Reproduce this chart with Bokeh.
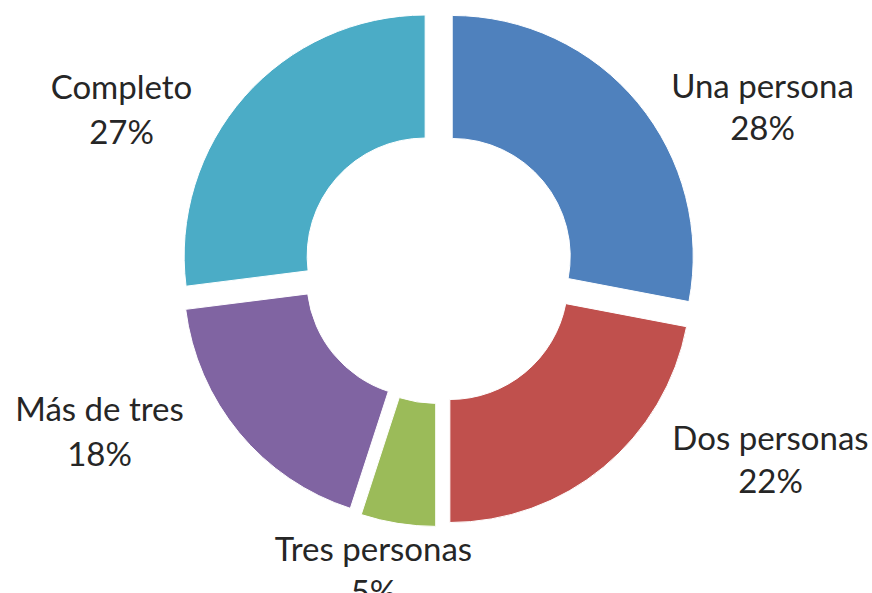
import numpy as np
from bokeh.plotting import figure
from bokeh.models import Range1d, ColumnDataSource
from bokeh.core.properties import value
from bokeh.embed import file_html
from bokeh.resources import INLINE

# ---- data ----
categories = ["Una persona", "Dos personas", "Tres personas", "Más de tres", "Completo"]
shares = [28, 22, 5, 18, 27]
colors = ["#4F81BD", "#C0504D", "#9BBB59", "#8064A2", "#4BACC6"]

# ---- layout (screen pixels of the picture) ----
W, H = 872, 593
CX, CY_SCREEN = 438.0, 267.3
R_OUT, R_IN, EXPLODE = 241.0, 118.0, 17.8
label_x = [762, 770, 373, 99, 121]
label_y1 = [84, 436, 547, 407, 85]
label_y2 = [126, 479, 590, 452, 130]

def sy(y):
    return H - y

p = figure(width=W, height=H, x_range=Range1d(0, W), y_range=Range1d(0, H),
           output_backend="svg", toolbar_location=None, min_border=0,
           x_axis_type=None, y_axis_type=None)
p.grid.visible = False
p.outline_line_color = None
p.background_fill_color = "white"
p.border_fill_color = "white"

vals = np.array(shares, dtype=float)
cum = np.concatenate([[0.0], np.cumsum(vals)]) / vals.sum() * 2 * np.pi
t1, t2 = cum[:-1], cum[1:]
mid = (t1 + t2) / 2
cy = sy(CY_SCREEN)
src = ColumnDataSource(dict(
    x=CX + EXPLODE * np.sin(mid),
    y=cy + EXPLODE * np.cos(mid),
    start=np.pi / 2 - t1,
    end=np.pi / 2 - t2,
    color=colors,
))
p.annular_wedge(x="x", y="y", inner_radius=R_IN, outer_radius=R_OUT,
                start_angle="start", end_angle="end", direction="clock",
                fill_color="color", line_color="white", line_width=1, source=src)

lab = ColumnDataSource(dict(
    x=label_x,
    y1=[sy(v) for v in label_y1],
    y2=[sy(v) for v in label_y2],
    name=categories,
    pct=[f"{int(v)}%" for v in shares],
))
common = dict(text_font=value("Lato"), text_font_size="33px", text_color="#262626",
              text_align="center", text_baseline="alphabetic", source=lab)
p.text(x="x", y="y1", text="name", **common)
p.text(x="x", y="y2", text="pct", **common)

open("out.html", "w").write(file_html(p, INLINE))
